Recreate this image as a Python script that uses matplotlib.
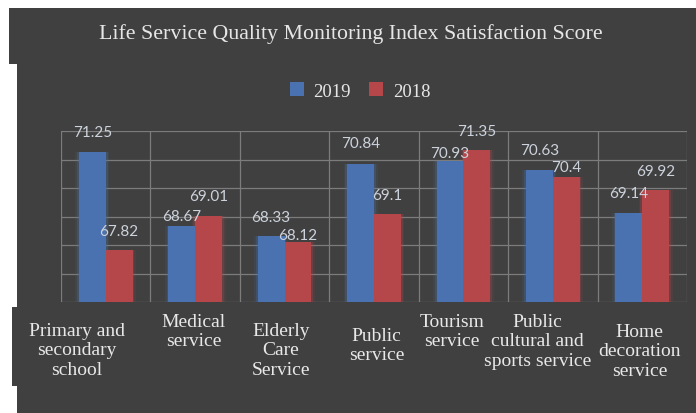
import matplotlib.pyplot as plt
from matplotlib.patches import Rectangle
from matplotlib.transforms import blended_transform_factory

# data
categories = ['Primary and\nsecondary\nschool', 'Medical\nservice', 'Elderly\nCare\nService',
              'Public\nservice', 'Tourism\nservice', 'Public\ncultural and\nsports service',
              'Home\ndecoration\nservice']
scores_2019 = [71.25, 68.67, 68.33, 70.84, 70.93, 70.63, 69.14]
scores_2018 = [67.82, 69.01, 68.12, 69.1, 71.35, 70.4, 69.92]

# layout tweaks (pixels / data shifts)
label_dx = [-0.32, -0.02, -0.04, 0.03, -0.13, -0.17, -0.03]
label_ypx = [351, 332, 351, 346, 332, 342, 352]
off_2019 = [20, 10, 19, 21, 8, 20, 20]
off_2018 = [19, 20, 7, 19, 19, 10, 19]

W, H = 696, 414
BG = '#404040'
BLUE = '#4a72b0'
RED = '#b5474a'
LBL = '#cdd3dc'

fig = plt.figure(figsize=(W / 100, H / 100), dpi=100, facecolor='white')


def px_rect(x0, y0, x1, y1, color):
    fig.patches.append(Rectangle((x0 / W, 1 - y1 / H), (x1 - x0) / W, (y1 - y0) / H,
                                 transform=fig.transFigure, facecolor=color,
                                 edgecolor='none', zorder=-5))


px_rect(9, 9, W, H, BG)
px_rect(0, 65, 17, 308, 'white')
px_rect(0, 308, 12, 387, 'white')
px_rect(0, 387, 17, H, 'white')

ax = fig.add_axes([61 / W, 1 - 303 / H, (687 - 61) / W, (303 - 132) / H])
ax.set_facecolor('none')
ax.set_zorder(2)

x = list(range(len(categories)))
bw = 0.3
xb = [i - bw / 2 for i in x]
xr = [i + bw / 2 for i in x]

# soft glow behind the bars
for g, a in [(0.08, 0.12), (0.04, 0.25)]:
    ax.bar(xb, [v - 66 for v in scores_2019], bottom=66, width=bw + g, color=BLUE, alpha=a, zorder=2)
    ax.bar(xr, [v - 66 for v in scores_2018], bottom=66, width=bw + g, color=RED, alpha=a, zorder=2)
b1 = ax.bar(xb, [v - 66 for v in scores_2019], bottom=66, width=bw, color=BLUE, zorder=3, label='2019')
b2 = ax.bar(xr, [v - 66 for v in scores_2018], bottom=66, width=bw, color=RED, zorder=3, label='2018')

for xi, v, o in zip(xb, scores_2019, off_2019):
    ax.annotate(f'{v:g}', (xi, v), xytext=(0, o * 0.72), textcoords='offset points',
                ha='center', va='center', color=LBL, fontsize=11, family='Lato', zorder=4)
for xi, v, o in zip(xr, scores_2018, off_2018):
    ax.annotate(f'{v:g}', (xi, v), xytext=(0, o * 0.72), textcoords='offset points',
                ha='center', va='center', color=LBL, fontsize=11, family='Lato', zorder=4)

ax.set_xlim(-0.5, len(categories) - 0.5)
ax.set_ylim(66, 72)
ax.set_yticks(range(66, 73))
ax.set_xticks([i + 0.5 for i in range(-1, len(categories))])
ax.tick_params(left=False, bottom=False, labelleft=False, labelbottom=False)
ax.grid(True, color='#7c7c7c', linewidth=0.9, zorder=1)
for s in ax.spines.values():
    s.set_visible(False)

trans = blended_transform_factory(ax.transData, fig.transFigure)
for i, (lab, dx, ypx) in enumerate(zip(categories, label_dx, label_ypx)):
    ax.text(i + dx, 1 - ypx / H, lab, transform=trans, clip_on=False,
            ha='center', va='center', multialignment='center', family='Liberation Serif',
            fontsize=14, color='#e8e8e8', linespacing=1.2)

fig.text(351 / W, 1 - 34 / H, 'Life Service Quality Monitoring Index Satisfaction Score',
         ha='center', va='center', family='Liberation Serif', fontsize=15.75, color='#e6e6e6')

leg = fig.legend(handles=[b1, b2], loc='center', bbox_to_anchor=(360 / W, 1 - 92 / H), ncol=2,
                 frameon=False, prop={'family': 'Liberation Serif', 'size': 13.5},
                 handlelength=0.75, handleheight=0.75, handletextpad=0.5, columnspacing=1.0)
for t in leg.get_texts():
    t.set_color('#e6e6e6')

fig.savefig('out.png', dpi=100, facecolor='white')
